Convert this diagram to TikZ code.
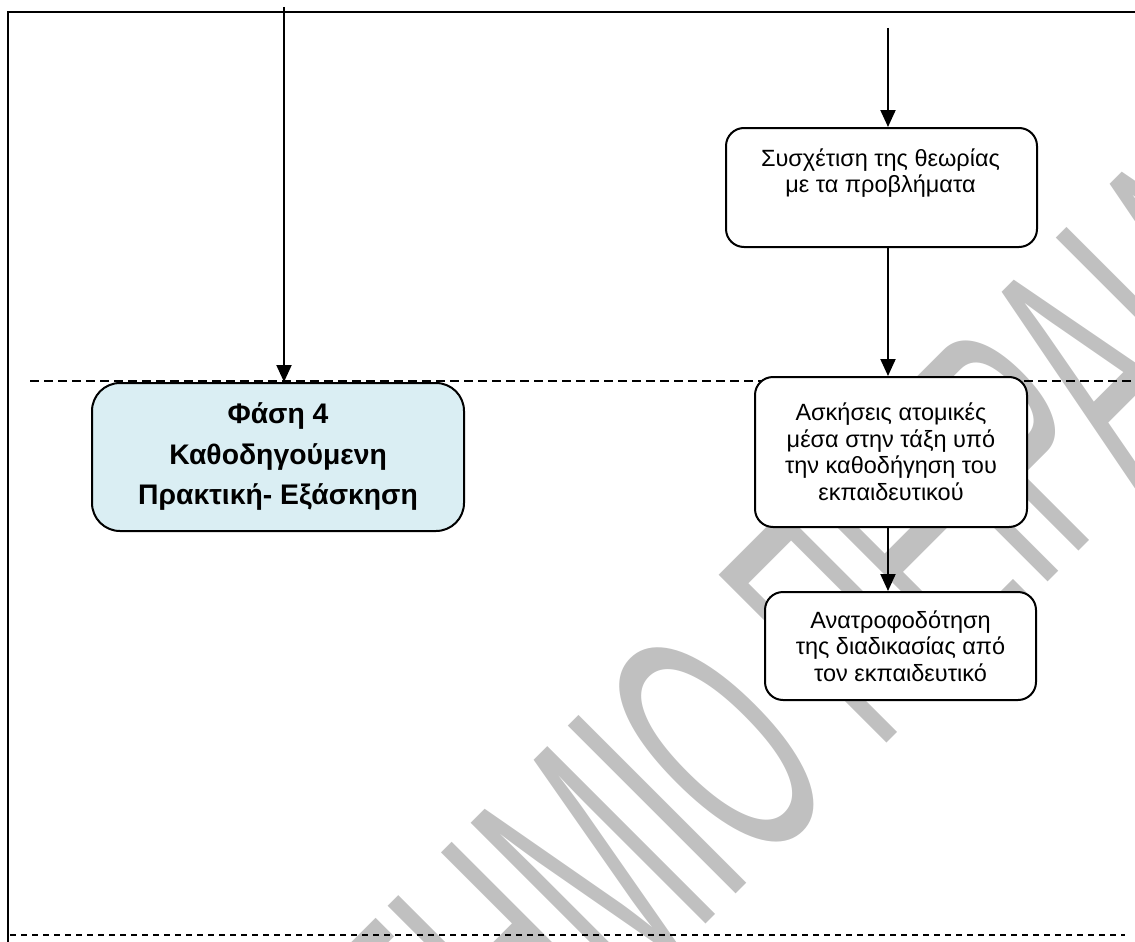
\documentclass[tikz,border=0pt]{standalone}
\usepackage{fontspec}
\setmainfont{Liberation Sans}
\usetikzlibrary{arrows.meta}
\definecolor{phaseblue}{HTML}{DAEEF3}
\definecolor{wmgray}{HTML}{C0C0C0}
\begin{document}
\begin{tikzpicture}[x=1pt, y=-1pt,
    stepbox/.style={draw, line width=2pt, rounded corners=18pt, fill=white, inner sep=0pt},
    phasebox/.style={draw, line width=2pt, rounded corners=28pt, fill=phaseblue, inner sep=0pt,
      align=center, font=\bfseries\fontsize{28.3}{40.5}\selectfont},
    steptext/.style={align=center, inner sep=0pt, font=\fontsize{23.5}{26.5}\selectfont},
    flow/.style={line width=2pt, -{Triangle[length=17pt,width=15pt]}},
    phaseline/.style={line width=1.5pt, dash pattern=on 9pt off 5pt}]
  \useasboundingbox (0,0) rectangle (1135,942);
  \begin{scope}
    \clip (0,0) rectangle (1135,942);
    \node[text=wmgray, rotate=45, anchor=base, inner sep=0pt, font=\fontsize{345}{345}\selectfont]
      (stamp) at (878,752) {\scalebox{0.47}[1]{\llap{ΠΑΝΕΠΙΣΤΗΜΙΟ }\rlap{ΠΕΙΡΑΙΑ}}};
  \end{scope}
  \draw[line width=2.5pt] (8,942) -- (8,12) -- (1135,12);
  \draw[phaseline] (30,381) -- (1135,381);
  \draw[line width=1.5pt, dash pattern=on 6pt off 5pt] (10,935) -- (1125,935);

  \node[phasebox, minimum width=372, minimum height=148] (phase4) at (278,457)
    {Φάση 4\\Καθοδηγούμενη\\Πρακτική- Εξάσκηση};
  \node[stepbox, minimum width=311, minimum height=119] (relate) at (881.5,187.5) {};
  \node[steptext] (relatetext) at (880.5,173) {Συσχέτιση της θεωρίας\\με τα προβλήματα};
  \node[stepbox, steptext, minimum width=272, minimum height=150] (exercise) at (891,452)
    {Ασκήσεις ατομικές\\μέσα στην τάξη υπό\\την καθοδήγηση του\\εκπαιδευτικού};
  \node[stepbox, steptext, minimum width=271, minimum height=108] (feedback) at (900.5,646)
    {Ανατροφοδότηση\\της διαδικασίας από\\τον εκπαιδευτικό};

  \coordinate (inL) at (284,7);
  \coordinate (inR) at (888,28);
  \draw[flow] (inL) -- (inL |- phase4.north);
  \draw[flow] (inR) -- (inR |- relate.north);
  \draw[flow] (inR |- relate.south) -- (inR |- exercise.north);
  \draw[flow] (inR |- exercise.south) -- (inR |- feedback.north);
\end{tikzpicture}
\end{document}
